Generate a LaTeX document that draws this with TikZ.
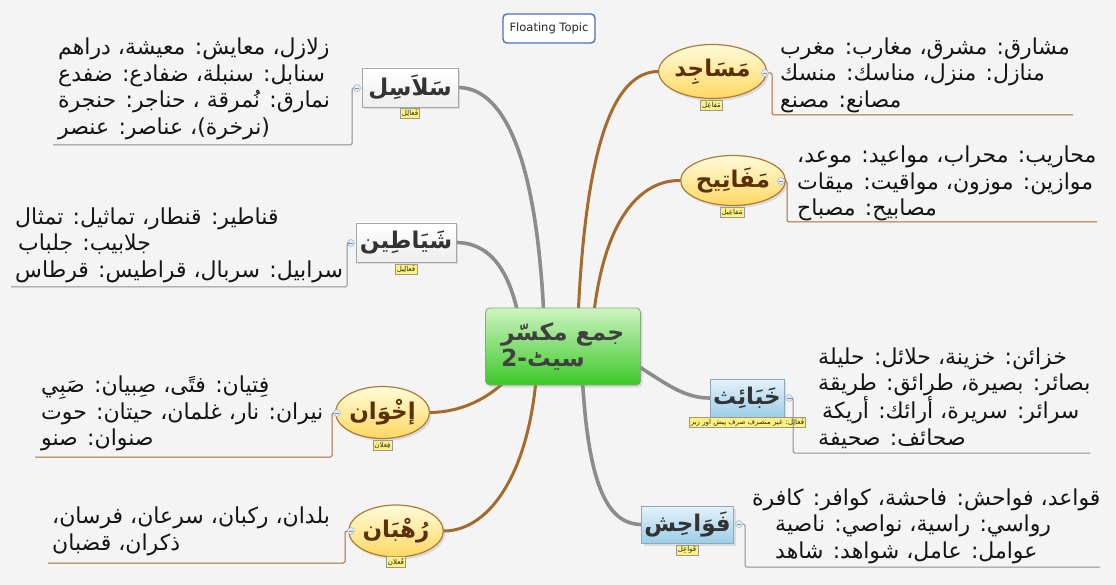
\documentclass[tikz,border=0pt]{standalone}
\usepackage{fontspec}
\setmainfont{DejaVu Sans}
\newfontfamily\ar[Script=Arabic]{DejaVu Sans}
\TeXXeTstate=1
\usetikzlibrary{shapes.geometric,shadows}
\definecolor{bgc}{HTML}{F4F4F4}
\definecolor{brn}{HTML}{A66A2C}
\definecolor{gry}{HTML}{8C8C8C}
\definecolor{ellT}{HTML}{FFFBDA}
\definecolor{ellB}{HTML}{FFD862}
\definecolor{ellD}{HTML}{B07A36}
\definecolor{ttl}{HTML}{5A3008}
\definecolor{bluT}{HTML}{E4F2FB}
\definecolor{bluB}{HTML}{9CCDE8}
\definecolor{bluD}{HTML}{8FA8B8}
\definecolor{grnT}{HTML}{CDF4C0}
\definecolor{grnB}{HTML}{3CC828}
\definecolor{grnD}{HTML}{86A67E}
\definecolor{lblY}{HTML}{FFF27C}
\definecolor{togF}{HTML}{E2ECF8}
\definecolor{togD}{HTML}{9DB3CC}
\definecolor{ftB}{HTML}{4A6FC0}
\pgfdeclarelayer{bg}
\pgfdeclarelayer{links}
\pgfsetlayers{bg,links,main}
\tikzset{
  shd/.style={drop shadow={opacity=0.22, shadow xshift=2pt, shadow yshift=-2.5pt}},
  ellnode/.style={ellipse, shd, draw=ellD, line width=1.2pt, top color=ellT, bottom color=ellB,
    inner sep=0pt, text=ttl, font=\ar\bfseries\fontsize{23}{28}\selectfont},
  wbox/.style={rectangle, shd, draw=black!35, line width=0.8pt, top color=white, bottom color=black!7,
    inner sep=0pt, text=black!80, font=\ar\bfseries\fontsize{23}{28}\selectfont},
  bbox/.style={rectangle, shd, draw=bluD, line width=0.8pt, top color=bluT, bottom color=bluB,
    inner sep=0pt, text=black!80, font=\ar\bfseries\fontsize{23}{28}\selectfont},
  cbox/.style={rectangle, rounded corners=4pt, shd, draw=grnD, line width=0.8pt, top color=grnT, bottom color=grnB,
    inner sep=0pt, text=black!75, font=\ar\bfseries\fontsize{23.5}{25.5}\selectfont, align=left},
  lbl/.style={rectangle, draw=black!40, line width=0.4pt, fill=lblY, inner sep=1.5pt,
    font=\ar\fontsize{7}{8}\selectfont, text=black!85},
  txt/.style={inner sep=0pt, align=left, text=black!92, font=\ar\fontsize{22}{26.5}\selectfont},
  tog/.style={circle, draw=togD, fill=togF, line width=0.5pt, minimum size=7pt, inner sep=0pt,
    path picture={\draw[togD!80!black, line width=0.5pt] ([xshift=-2pt]path picture bounding box.center) -- ([xshift=2pt]path picture bounding box.center);}},
  brkB/.style={draw=brn, line width=1pt, rounded corners=1.5pt},
  brkG/.style={draw=black!45, line width=1pt, rounded corners=1.5pt},
  conB/.style={draw=brn, line width=3pt, line cap=round},
  conG/.style={draw=gry, line width=3.6pt, line cap=round},
}
\begin{document}
\begin{tikzpicture}[x=1pt,y=-1pt]
\begin{pgfonlayer}{bg}
\fill[bgc] (0,0) rectangle (1116,585);
\end{pgfonlayer}
\useasboundingbox (0,0) rectangle (1116,585);

% floating topic
\node[rectangle, rounded corners=4pt, draw=ftB, line width=1.4pt, fill=white, minimum width=92pt, minimum height=29pt,
  inner sep=0pt, font=\fontsize{11.5}{13}\selectfont, text=black!85] (ft) at (549,28.5) {Floating Topic};

% central topic
\node[cbox, minimum width=155pt, minimum height=77pt, text width=124pt] (c) at (563,346.5)
  {\beginR جمع مکسّر\endR\\\beginR سیٹ-2\endR};

% branches right
\node[ellnode, minimum width=99pt, minimum height=54pt] (ms) at (712.5,71.5) {\beginR مَسَاجِد\endR};
\node[ellnode, minimum width=88pt, minimum height=50pt] (mf) at (733,180.5) {\beginR مَفَاتِيح\endR};
\node[bbox, minimum width=74pt, minimum height=38pt] (kh) at (747,398) {\beginR خَبَائِث\endR};
\node[bbox, minimum width=92pt, minimum height=37pt] (fw) at (687.5,524.5) {\beginR فَوَاحِش\endR};
% branches left
\node[wbox, minimum width=96pt, minimum height=39pt] (sl) at (410,87.5) {\beginR سَلاَسِل\endR};
\node[wbox, minimum width=100pt, minimum height=39pt] (sh) at (406,242.5) {\beginR شَيَاطِين\endR};
\node[ellnode, minimum width=79pt, minimum height=52pt] (ik) at (382.5,412.5) {\beginR إخْوَان\endR};
\node[ellnode, minimum width=80pt, minimum height=52pt] (rh) at (396,531) {\beginR رُهْبَان\endR};

% labels
\node[lbl] (lms) at (711.5,105.5) {\beginR مَفاعِل\endR};
\node[lbl] (lmf) at (732,212.5) {\beginR مَفاعِيل\endR};
\node[lbl] (lkh) at (747.5,422.5) {\beginR فَعائِل: غیر منصرف صرف پیش اور زبر\endR};
\node[lbl] (lfw) at (687,550) {\beginR فَواعِل\endR};
\node[lbl] (lsl) at (410,113) {\beginR فَعالِل\endR};
\node[lbl] (lsh) at (406,269) {\beginR فَعالِيل\endR};
\node[lbl] (lik) at (382.5,445.5) {\beginR فِعلان\endR};
\node[lbl] (lrh) at (396,562) {\beginR فُعلان\endR};

% toggles
\node[tog] (gms) at (765,73) {};
\node[tog] (gmf) at (781,181) {};
\node[tog] (gkh) at (789,398) {};
\node[tog] (gfw) at (739,524) {};
\node[tog] (gsl) at (357,88) {};
\node[tog] (gsh) at (351,243) {};
\node[tog] (gik) at (337,413) {};
\node[tog] (grh) at (351,531) {};

% text blocks
\node[txt, anchor=west] (tms) at (780,75)
  {\beginR مشارق: مشرق، مغارب: مغرب\endR\\\beginR منازل: منزل، مناسك: منسك\endR\\\beginR مصانع: مصنع\endR};
\node[txt, anchor=west] (tmf) at (797,183.5)
  {،\beginR محاريب: محراب، مواعيد: موعد\endR\\\beginR موازين: موزون، مواقيت: ميقات\endR\\\beginR مصابيح: مصباح\endR};
\node[txt, anchor=west] (tkh) at (818,398)
  {\beginR خزائن: خزينة، حلائل: حليلة\endR\\\beginR بصائر: بصيرة، طرائق: طريقة\endR\\\hspace*{4pt}\beginR سرائر: سريرة، أرائك: أريكة\endR\\\beginR صحائف: صحيفة\endR};
\node[txt, anchor=west] (tfw) at (752,526)
  {\beginR قواعد، فواحش: فاحشة، كوافر: كافرة\endR\\\hspace*{23pt}\beginR رواسي: راسية، نواصي: ناصية\endR\\\hspace*{23pt}\beginR عوامل: عامل، شواهد: شاهد\endR};
\node[txt, anchor=west] (tsl) at (58,89)
  {\beginR زلازل، معايش: معيشة، دراهم\endR\\\beginR سنابل: سنبلة، ضفادع: ضفدع\endR\\\beginR نمارق: نُمرقة ، حناجر: حنجرة\endR\\\beginR (نرخرة)، عناصر: عنصر\endR};
\node[txt, anchor=west] (tsh) at (15,245)
  {\beginR قناطير: قنطار، تماثيل: تمثال\endR\\\hspace*{3pt}\beginR جلابيب: جلباب\endR\\\beginR سرابيل: سربال، قراطيس: قرطاس\endR};
\node[txt, anchor=west] (tik) at (41,413.5)
  {\beginR فِتيان: فتًى، صِبيان: صَبِي\endR\\\beginR نيران: نار، غلمان، حيتان: حوت\endR\\\beginR صنوان: صنو\endR};
\node[txt, anchor=west] (trh) at (52,531.5)
  {،\beginR بلدان، ركبان، سرعان، فرسان\endR\\\beginR ذكران، قضبان\endR};

% bracket end points
\coordinate (ems) at (1073,115);
\coordinate (emf) at (1097,222);
\coordinate (ekh) at (1090,453);
\coordinate (efw) at (1100,567);
\coordinate (esl) at (53,145);
\coordinate (esh) at (11,287);
\coordinate (eik) at (35,457);
\coordinate (erh) at (48,563);

\draw[brkB] (gms.east) -| (772,115) -- (ems);
\draw[brkB] (gmf.east) -| (787,222) -- (emf);
\draw[brkG] (gkh.east) -| (793,453) -- (ekh);
\draw[brkG] (gfw.east) -| (745,567) -- (efw);
\draw[brkG] (gsl.west) -| (352,145) -- (esl);
\draw[brkG] (gsh.west) -| (347,287) -- (esh);
\draw[brkB] (gik.west) -| (332,457) -- (eik);
\draw[brkB] (grh.west) -| (345,563) -- (erh);

% connectors
\begin{pgfonlayer}{links}
\draw[conG] ([xshift=-18pt]c.center) .. controls (540,160) and (505,88) .. (sl.east);
\draw[conG] ([xshift=-40pt]c.center) .. controls (515,270) and (490,243) .. (sh.east);
\draw[conB] ([xshift=14pt]c.center) .. controls (583,140) and (615,72) .. (ms.west);
\draw[conB] ([xshift=28pt]c.center) .. controls (598,220) and (640,180) .. (mf.west);
\draw[conG] ([xshift=40pt]c.center) .. controls (655,372) and (675,398) .. (kh.west);
\draw[conG] ([xshift=18pt]c.center) .. controls (585,480) and (605,524) .. (fw.west);
\draw[conB] ([xshift=-30pt]c.center) .. controls (500,400) and (460,412) .. (ik.east);
\draw[conB] ([xshift=-25pt]c.center) .. controls (535,470) and (490,531) .. (rh.east);
\end{pgfonlayer}
\end{tikzpicture}
\end{document}
